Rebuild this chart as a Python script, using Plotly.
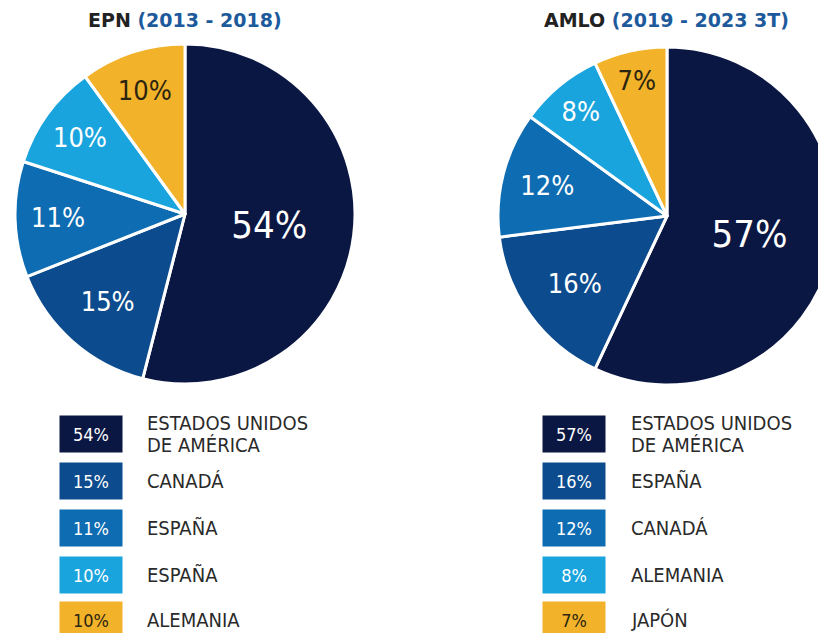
import plotly.graph_objects as go

# data
epn_values = [54, 15, 11, 10, 10]
epn_countries = ["ESTADOS UNIDOS<br>DE AMÉRICA", "CANADÁ", "ESPAÑA", "ESPAÑA", "ALEMANIA"]
amlo_values = [57, 16, 12, 8, 7]
amlo_countries = ["ESTADOS UNIDOS<br>DE AMÉRICA", "ESPAÑA", "CANADÁ", "ALEMANIA", "JAPÓN"]

colors = ["#0b1743", "#0c4b8d", "#0e6cb2", "#1aa4de", "#f2b22a"]
text_colors = ["white", "white", "white", "white", "#2b2510"]

# page has an 8px body margin; figure is a bit bigger than the window so the
# right pie and the last legend row get clipped at the edge like in the original
OFF = 8
W, H = 840, 633
COND = "DejaVu Sans Condensed, Liberation Sans Narrow, Roboto, sans-serif"


def px_x(v):
    return (v - OFF) / W


def px_y(v):
    return 1 - (v - OFF) / H


fig = go.Figure()

pies = [
    (epn_values, (185, 214), 170),
    (amlo_values, (667, 216), 169),
]
for vals, (cx, cy), r in pies:
    fig.add_trace(go.Pie(
        values=vals,
        labels=[f"s{i}" for i in range(len(vals))],
        sort=False,
        direction="clockwise",
        rotation=0,
        marker=dict(colors=colors, line=dict(color="white", width=3)),
        texttemplate="%{value}%",
        textposition="inside",
        insidetextorientation="horizontal",
        textfont=dict(family=COND, size=[38, 27, 27, 27, 27], color=text_colors),
        domain=dict(x=[px_x(cx - r), px_x(cx + r)], y=[px_y(cy + r), px_y(cy - r)]),
        showlegend=False,
        hoverinfo="skip",
    ))

# titles
titles = [
    ("EPN", "(2013 - 2018)", 185),
    ("AMLO", "(2019 - 2023 3T)", 666),
]
for name, period, cx in titles:
    fig.add_annotation(
        x=px_x(cx), y=px_y(20), xref="paper", yref="paper",
        text=f"<b>{name} <span style='color:#1d5a9c'>{period}</span></b>",
        showarrow=False, xanchor="center", yanchor="middle",
        font=dict(family="DejaVu Sans, sans-serif", size=19, color="#222222"),
    )

# legends
row_y = [434, 480.5, 527.5, 574.5, 620]
legends = [
    (epn_values, epn_countries, 91, 145),
    (amlo_values, amlo_countries, 574, 629),
]
for vals, names, box_cx, label_x in legends:
    for i, (v, name) in enumerate(zip(vals, names)):
        fig.add_annotation(
            x=px_x(box_cx), y=px_y(row_y[i]), xref="paper", yref="paper",
            text=f"{v}%", showarrow=False, xanchor="center", yanchor="middle",
            width=62, height=36, borderpad=0, bgcolor=colors[i],
            font=dict(family=COND, size=18, color=text_colors[i]),
        )
        lines = name.split("<br>")
        for j, line in enumerate(lines):
            ly = row_y[i] + (j - (len(lines) - 1) / 2) * 22
            fig.add_annotation(
                x=px_x(label_x), y=px_y(ly), xref="paper", yref="paper",
                text=line, showarrow=False, xanchor="left", yanchor="middle",
                font=dict(family=COND, size=20, color="#2a2a2a"),
            )

fig.update_layout(
    width=W, height=H,
    margin=dict(l=0, r=0, t=0, b=0),
    paper_bgcolor="white",
    plot_bgcolor="white",
)

fig.write_html("out.html")
